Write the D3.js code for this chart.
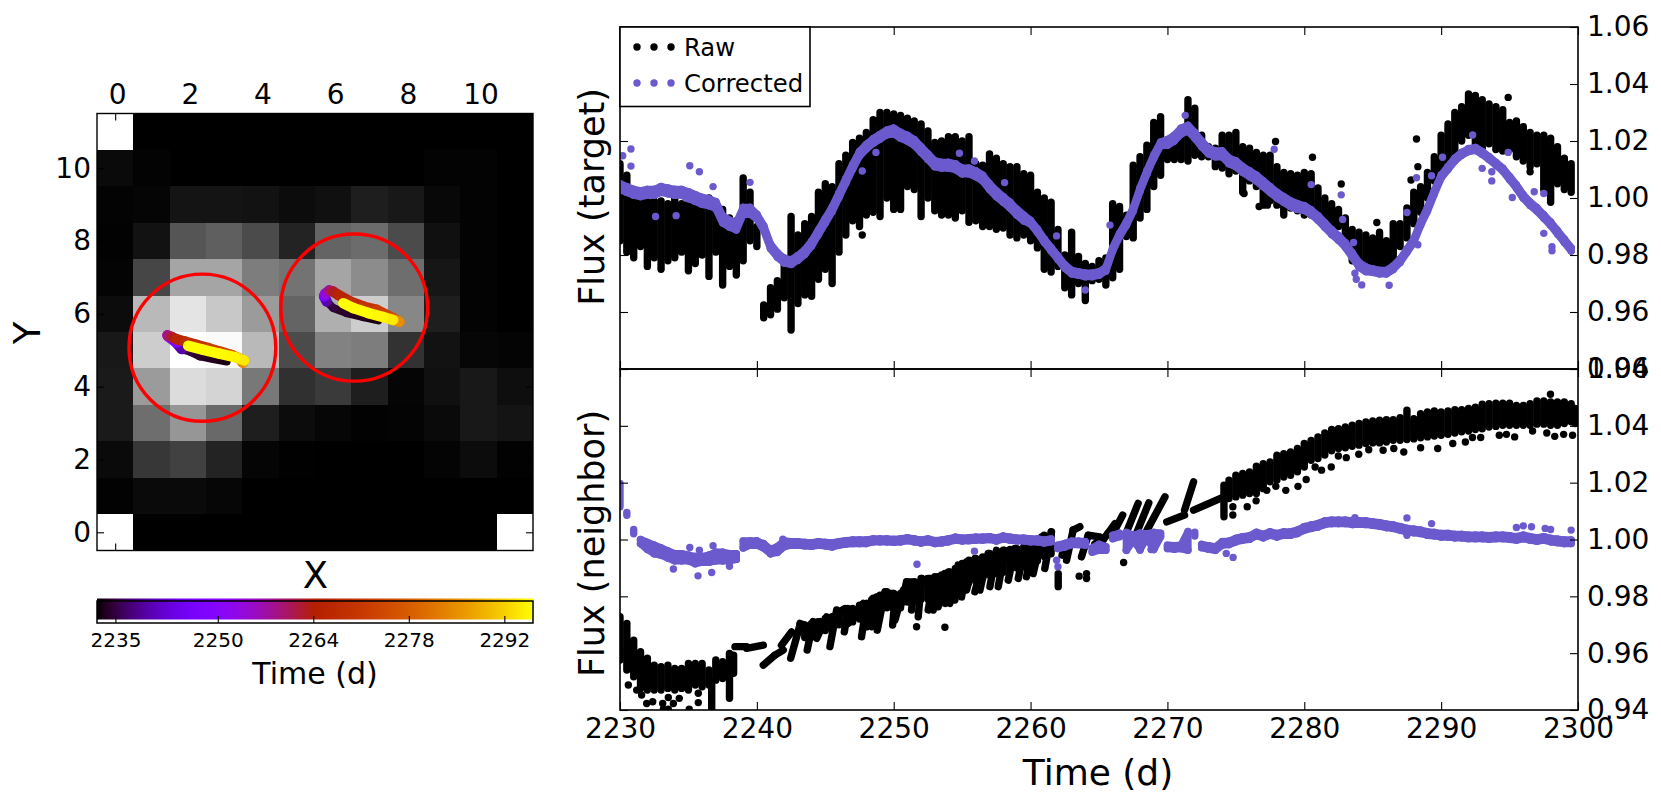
<!DOCTYPE html>
<html><head><meta charset="utf-8">
<script src="https://cdn.jsdelivr.net/npm/d3@7"></script>
<style>html,body{margin:0;padding:0;background:#fff}svg{display:block}text{font-family:"DejaVu Sans";fill:#000}</style>
</head><body><svg id="c" width="1661" height="806"></svg>
<script>
// ---------- pixel image (row 0 = Y 11, top) ; null = masked pixel
const heatRows = [
[null,0,0,0,0,0,0,0,0,0,0,0],
[10,3,0,0,0,0,0,0,0,3,3,0],
[3,5,20,20,18,12,16,30,24,8,3,0],
[2,18,85,95,75,35,100,108,75,16,3,0],
[4,70,165,165,125,115,165,140,110,22,3,0],
[12,185,228,200,155,100,175,205,135,30,3,0],
[24,205,255,250,185,75,130,125,50,18,6,4],
[26,155,220,212,120,48,58,30,5,16,24,14],
[26,110,150,105,30,12,6,2,4,10,24,20],
[10,55,65,35,5,1,0,0,0,4,12,2],
[2,10,10,6,0,0,0,0,0,0,0,0],
[null,0,0,0,0,0,0,0,0,0,0,null]];
const apertureX = [2.4, 6.58], apertureY = [5.07, 6.17], apertureR = [2.02, 2.02];
const heatTicks = [0,2,4,6,8,10];
// ---------- centroid tracks
const trackTime = [2232.5,2233,2233.5,2234,2235,2240,2248,2254,2259,2263,2266,2268,2270,2272,2274,2277,2281,2285,2294.5,2295.5,2296,2296.2];
const track1X = [3.07,2.70,2.33,2.06,1.83,1.69,1.46,1.44,1.56,1.69,1.92,2.24,2.56,2.89,3.21,3.44,3.51,3.55,3.30,2.89,2.43,2.01];
const track1Y = [4.69,4.76,4.83,4.96,5.03,5.20,5.38,5.41,5.36,5.30,5.24,5.15,5.06,4.96,4.87,4.76,4.66,4.72,4.81,4.90,5.01,5.12];
const track2X = [7.24,6.83,6.37,6.00,5.82,5.75,5.78,5.89,6.00,6.14,6.46,6.83,7.20,7.47,7.65,7.75,7.82,7.65,7.38,6.97,6.55,6.28];
const track2Y = [5.82,5.91,6.02,6.16,6.34,6.48,6.55,6.64,6.61,6.52,6.34,6.20,6.11,5.97,5.88,5.82,5.78,5.83,5.91,6.02,6.16,6.29];
const cbTicks = [2235,2250,2264,2278,2292];
const cbDomain = [2232.3,2296.2];
// ---------- shared
const dayGrid = d3.range(2230,2300,0.5);
const timeTicks = [2230,2240,2250,2260,2270,2280,2290,2300];
const fluxTicks = [0.94,0.96,0.98,1.00,1.02,1.04,1.06];
// ---------- target, raw, high and low edge of the scatter per half day
const targetRawHi = [
1.012,1.008,1.001,.999,.999,.999,.999,.998,1.000,.998,
.998,.998,.998,1.000,.996,.996,.993,.992,1.007,1.002,
.990,.9625,.9685,.971,.979,.9935,.987,.991,.9935,1.002,
1.005,1.004,1.012,1.015,1.0195,1.021,1.023,1.0275,1.030,1.030,
1.0295,1.029,1.028,1.027,1.026,1.0235,1.0195,1.020,1.0215,1.0215,
1.020,1.0215,1.012,1.0115,1.0155,1.014,1.012,1.011,1.011,1.0085,
1.008,1.002,1.000,.9985,.989,.980,.988,.9795,.977,.976,
.978,.979,.998,.997,.994,1.0115,1.0145,1.0185,1.0265,1.0285,
1.020,1.021,1.023,1.0345,1.0315,1.022,1.018,1.0175,1.022,1.022,
1.023,1.018,1.0175,1.016,1.015,1.015,1.011,1.009,1.0085,1.008,
1.009,1.0085,1.0035,1.000,.998,.996,.993,.989,.988,.987,
.986,.988,.985,.991,.991,.9965,1.002,1.004,1.009,1.0145,
1.022,1.026,1.030,1.032,1.0365,1.036,1.0345,1.033,1.032,1.031,
1.0265,1.027,1.025,1.023,1.022,1.022,1.021,1.018,1.014,1.012];
const targetRawLo = [
.985,.981,.979,.983,.976,.979,.975,.978,.979,.981,
.9745,.977,.980,.9725,.981,.9695,.976,.973,.978,.985,
.983,.958,.959,.961,.965,.9537,.963,.966,.9655,.9715,
.975,.970,.981,.987,.992,.990,.994,.995,.9935,1.000,
.996,.996,1.004,1.003,.9935,1.000,.9955,.994,.994,.993,
.9955,.9915,.992,.990,.990,.989,.9895,.987,.986,.987,
.985,.9825,.975,.974,.976,.9685,.966,.970,.964,.971,
.9715,.9695,.972,.975,.9865,.986,.993,.996,1.004,1.008,
1.0135,1.0135,1.0135,1.013,1.015,1.0145,1.0145,1.011,1.0105,1.0085,
1.0095,1.002,1.006,1.004,.9975,.999,.9975,.994,.9965,.9955,
.994,.994,.9935,.9925,.990,.990,.984,.978,.976,.976,
.976,.976,.976,.978,.983,.986,.991,.995,1.000,1.006,
1.010,1.0125,1.015,1.020,1.022,1.018,1.016,1.019,1.017,1.0165,
1.017,1.0145,1.013,1.011,1.012,1.003,.9985,1.005,1.003,1.002];
const targetRawDotT = [2288.2,2294.9,2285.3,2282.7,2280.6,2277.9,2275.6,2276.7,2277.3,2287.8,2288.3,2296.5,2247.7,2248.6];
const targetRawDotV = [1.0207,1.0353,.9914,1.0049,1.0143,1.0198,1.0016,.997,.9975,1.0063,1.011,1.0092,.987,1.0271];
// ---------- target, corrected
const targetCorr = [
1.004,1.003,1.002,1.0015,1.002,1.002,1.003,1.0025,1.002,1.002,
1.001,1.000,.999,.9985,.9975,.9925,.991,.990,.9955,.9955,
.9935,.9895,.983,.980,.978,.9775,.979,.981,.984,.988,
.992,.996,1.001,1.006,1.011,1.0155,1.018,1.020,1.0215,1.023,
1.0235,1.022,1.021,1.0195,1.017,1.0145,1.012,1.0115,1.0115,1.011,
1.0095,1.0095,1.0085,1.007,1.004,1.0015,.9995,.9975,.995,.993,
.9915,.9885,.985,.982,.979,.976,.974,.9735,.973,.973,
.9735,.975,.982,.987,.991,.996,1.003,1.009,1.0145,1.019,
1.0195,1.021,1.0235,1.0245,1.022,1.019,1.0165,1.0155,1.0155,1.013,
1.012,1.010,1.0085,1.007,1.005,1.003,1.001,.9995,.998,.997,
.9965,.995,.993,.9905,.988,.986,.9835,.980,.9765,.975,
.9745,.974,.974,.9755,.978,.9815,.985,.991,.996,1.002,
1.0075,1.0105,1.0135,1.0155,1.0168,1.0172,1.0158,1.014,1.012,1.010,
1.007,1.004,1.0005,.998,.996,.9935,.991,.988,.985,.982];
const targetCorrSpread = [.0010,.0012,.0008,.0008,.0010,.0010,.0006,.0006,.0010,.0010,.0008,.0006,.0005,.0006]; // one per 5 days
const targetCorrDotT = [2235.1,2235.8,2236.8,2239.5,2230.2,2230.8,2230.8,2232.6,2234.1,2247.7,2248.7,2254.8,2255.9,2258.1,2261.9,2264,2271.3,2277.8,2280.5,2282.7,2282.8,2283.6,2283.7,2283.8,2284.2,2286.2,2288.3,2287.5,2288.2,2289.3,2290.1,2292.3,2293,2293.7,2293.7,2294.9,2295.2,2296.8,2297.5,2297.5,2298.1,2298.1,2265.8];
const targetCorrDotV = [1.0113,1.0092,1.004,1.0055,1.0148,1.0172,1.0112,.9935,.9938,1.0095,1.016,1.0157,1.013,1.0054,.9867,.9677,1.029,1.0171,1.0047,1.0011,.9925,.9844,.9736,.9715,.9695,.9694,.9836,.9949,1.0071,1.0078,1.0143,1.0221,1.0104,1.0092,1.006,1.016,1.0002,1.0022,1.0016,.9876,.9829,.9815,.9905];
// ---------- neighbor, raw drift streaks (start time, start flux, end time, end flux)
const neighborT0 = [2230,2230.5,2231,2231.5,2232,2232.5,2233,2233.5,2234,2234.5,2235,2235.5,2236,2236.5,2236.7,2237,2237.5,2238,2238.3,
2238.4,2239.25,2240.47,2241.32,2241.8,2242.47,2243.15,2243.68,2244.12,2244.37,2245.34,2245.83,2246.39,2246.68,2247.65,2248.02,2248.38,2248.8,2249.36,2249.92,2250.09,2250.57,2250.94,2251.3,2251.79,2252.04,2252.52,2252.89,2253.25,2253.74,2254.1,2254.47,2254.96,2255.32,2255.93,2256.3,2257.03,2257.64,2258.37,2259.1,2259.7,2260.19,2261.04,2262.02,2262.63,2263.11,2263.72,2264.21,
2265.64,2266.16,2267.07,2267.73,2268.51,2269.95,2271.25,2271.91,2274.13,
2274.5,2275,2275.5,2276,2276.5,2277,2277.5,2278,2278.5,2279,2279.5,2280,2280.5,2281,2281.5,2282,2282.5,2283,2283.5,2284,2284.5,2285,2285.5,2286,2286.5,2287,2287.5,2288,2288.5,2289,2289.5,2290,2290.5,2291,2291.5,2292,2292.5,2293,2293.5,2294,2294.5,2295,2295.5,2296,2296.5,2297,2297.5,2298,2298.5,2299,2299.5,2299.8,
2262.3,2264.7,2265.1];
const neighborV0 = [.9576,.9541,.9517,.9476,.947,.947,.947,.9476,.947,.9476,.947,.9488,.9482,.9488,.9388,.9505,.9511,.9441,.9529,
.9623,.9617,.9558,.9593,.9628,.9582,.9705,.9611,.9705,.9652,.9623,.974,.9675,.9705,.9658,.9693,.9693,.9681,.981,.9699,.9716,.9775,.9851,.9752,.9728,.9857,.9752,.9752,.9763,.9775,.9775,.9787,.9798,.9822,.9816,.9822,.9834,.9834,.9857,.9863,.9869,.988,.9898,.9834,.9927,1.0033,.9939,1.0015,
1.0021,1.0033,1.0033,1.0021,1.0033,1.0062,1.0103,1.0103,1.008,
1.0144,1.015,1.0156,1.0162,1.0162,1.0179,1.0203,1.0209,1.022,1.0226,1.0238,1.0255,1.0279,1.0285,1.0297,1.0312,1.032,1.0323,1.0328,1.0332,1.0338,1.034,1.034,1.0343,1.0349,1.0349,1.0352,1.0354,1.0358,1.0361,1.0364,1.0367,1.037,1.0375,1.0379,1.0382,1.0387,1.039,1.0396,1.0398,1.0402,1.0402,1.0402,1.0402,1.0402,1.0406,1.0406,1.0402,1.0402,1.0408,1.0414,1.0408,
.9945,.9985,.9985];
const neighborT1 = [2230,2230.5,2231,2231.5,2232,2232.5,2233,2233.5,2234,2234.5,2235,2235.5,2236,2236.5,2236.7,2237,2237.5,2238,2238.3,
2239.25,2240.47,2241.32,2241.93,2242.54,2243.15,2243.76,2244.12,2244.61,2245.1,2245.83,2246.44,2246.68,2247.77,2248.02,2248.38,2248.75,2249.36,2249.97,2250.09,2250.7,2250.94,2251.55,2251.55,2252.04,2252.64,2252.89,2253.25,2253.74,2254.1,2254.47,2254.71,2255.32,2255.93,2256.3,2256.9,2257.51,2258.12,2258.85,2259.58,2260.19,2260.8,2261.53,2262.02,2263.11,2263.6,2264.21,2265.06,
2266.16,2266.73,2267.86,2268.64,2269.82,2271.25,2271.91,2274.13,2274.13,
2274.5,2275,2275.5,2276,2276.5,2277,2277.5,2278,2278.5,2279,2279.5,2280,2280.5,2281,2281.5,2282,2282.5,2283,2283.5,2284,2284.5,2285,2285.5,2286,2286.5,2287,2287.5,2288,2288.5,2289,2289.5,2290,2290.5,2291,2291.5,2292,2292.5,2293,2293.5,2294,2294.5,2295,2295.5,2296,2296.5,2297,2297.5,2298,2298.5,2299,2299.5,2299.8,
2262.63,2265.3,2265.64];
const neighborV1 = [.9728,.9705,.9646,.9605,.9582,.9558,.9552,.9558,.9546,.9546,.9564,.9564,.9564,.9541,.9505,.9576,.957,.9599,.9593,
.9623,.9628,.9593,.9611,.9675,.9699,.9693,.9711,.9711,.9728,.9752,.9757,.9757,.9775,.9775,.9787,.9798,.9816,.981,.9793,.9822,.9851,.9851,.9845,.9863,.9863,.9851,.9869,.988,.9886,.988,.991,.9921,.9933,.988,.9951,.9962,.9962,.9968,.9974,.998,1.0009,1.0027,.988,1.0033,1.0045,1.0015,1.0009,
1.0056,1.0086,1.0127,1.0129,1.015,1.0086,1.0203,1.015,1.0191,
1.0209,1.0226,1.0232,1.0238,1.0258,1.0267,1.0273,1.0297,1.0302,1.0308,1.032,1.0338,1.0349,1.0361,1.0375,1.0387,1.039,1.0396,1.0402,1.0408,1.0414,1.0417,1.042,1.0422,1.0422,1.0429,1.0455,1.0425,1.0443,1.0449,1.0452,1.0449,1.0452,1.0457,1.0457,1.0461,1.0466,1.0476,1.0478,1.048,1.048,1.048,1.0472,1.0472,1.0478,1.0488,1.0488,1.0484,1.0484,1.0484,1.0478,1.0461,
.9985,1.0,1.0021];
// neighbor raw, dense part of the drift band between the streaks
const neighborBandT = d3.range(2243.5,2262,0.5);
const neighborBandHi = [.9699,.9705,.9711,.9722,.9728,.9746,.9754,.9757,.9769,.9775,.9793,.9804,.9816,.981,.981,.9851,.9851,.9863,.9863,.9869,.9875,.9886,.9898,.9916,.9927,.9933,.9939,.9951,.9957,.9962,.9965,.9968,.9974,.998,.9998,1.0015,1.0027];
const neighborBandLo = [.9655,.966,.967,.968,.9685,.97,.971,.971,.972,.9725,.974,.975,.976,.9755,.976,.978,.9785,.979,.979,.98,.981,.981,.982,.984,.985,.9855,.9865,.9875,.988,.9885,.9895,.99,.9905,.991,.9925,.994,.995];
const neighborRawDotT = [2230.61,2231.22,2231.58,2231.95,2232.39,2233.12,2233.53,2233.9,2234.33,2235.72,2235.72,2235.06,2233.17,2233.53,2251.67,2253.74,2263.55,2264.09,2264.09,2266.8,2274.78,2274.78,2275.83,2276.48,2277.26,2277.92,2278.65,2279.54,2280.14,2280.79,2281.26,2281.97,2282.49,2283.07,2283.98,2284.71,2285.76,2286.54,2287.27,2288.5,2289.75,2290.85,2291.77,2292.29,2292.89,2294.25,2294.77,2295.37,2296.68,2297.72,2298.3,2298.95,2299.6,2297.99];
const neighborRawDotV = [.9488,.947,.9453,.9423,.9429,.9423,.9444,.9423,.9441,.9459,.9426,.9403,.9403,.9403,.9693,.9691,.9871,.988,.9863,.9919,1.0086,1.0115,1.0115,1.0136,1.0173,1.0187,1.0173,1.0187,1.0211,1.0255,1.0244,1.0255,1.0294,1.0288,1.03,1.0316,1.0314,1.032,1.0308,1.0323,1.032,1.0338,1.0343,1.0359,1.0359,1.0367,1.037,1.0361,1.0382,1.0375,1.0363,1.037,1.0367,1.0511];
// ---------- neighbor, corrected
const neighborCorrHi = [
1.0197,1.0095,1.0035,1.000,.999,.998,.997,.996,.995,.995,
.9945,.994,.994,.9945,.9955,.9955,.995,.995,.9995,.9995,
.9995,.9985,.9965,.9975,.9995,.9992,.9992,.999,.9988,.9992,
.999,.9988,.9992,.9996,.9998,.9998,.9998,1.0002,1.0002,1.0002,
1.0,1.0002,1.0006,1.0002,.9998,1.0002,.9996,.9998,1.0002,1.0008,
1.0005,1.0006,1.0008,1.0008,1.001,1.0005,1.0012,1.0008,1.0005,1.0005,
1.0002,1.0002,.9998,1.0002,.998,.9986,.9994,.9994,.9992,.997,
.9983,.9975,1.0015,1.0022,1.0025,1.0015,1.0022,1.002,1.0025,1.0022,
.998,.9978,.998,1.0028,1.0026,.9983,.9978,.9974,.9992,.9994,
1.0004,1.001,1.0013,1.0025,1.0018,1.0027,1.0021,1.0027,1.0027,1.0033,
1.0045,1.0051,1.0056,1.0065,1.0068,1.0068,1.0068,1.0065,1.0066,1.0065,
1.0062,1.0059,1.0054,1.0051,1.0045,1.0039,1.0036,1.0033,1.0027,1.0025,
1.0021,1.0021,1.0018,1.0018,1.0015,1.0015,1.0015,1.0013,1.0015,1.0015,
1.0013,1.001,1.0015,1.001,1.0006,1.001,1.0004,1.0001,.9998,.9998];
const neighborCorrLo = [
1.0115,1.0085,1.002,.9985,.9965,.995,.9945,.9935,.9925,.9925,
.9925,.9915,.992,.992,.9925,.9925,.9925,.993,.997,.998,
.998,.997,.995,.9955,.9975,.998,.998,.9978,.9976,.998,
.9978,.9974,.998,.9984,.9986,.9986,.9986,.9992,.9992,.9992,
.999,.9992,.9996,.9992,.9988,.9992,.9986,.9988,.9992,.9998,
.9995,.9996,.9998,.9998,1.0,.9995,1.0002,.9998,.9995,.9995,
.9992,.9992,.9988,.9992,.9968,.9974,.9982,.9982,.998,.9955,
.9962,.9962,1.0003,1.001,.9962,.9997,.9965,1.0006,.9965,1.001,
.9968,.9966,.9968,.9962,1.0012,.9971,.9966,.9962,.998,.9982,
.9992,.9998,1.0001,1.0013,1.0006,1.0015,1.0009,1.0015,1.0015,1.0021,
1.0033,1.0039,1.0044,1.0053,1.0056,1.0056,1.0056,1.0053,1.0054,1.0053,
1.005,1.0047,1.0042,1.0039,1.0033,1.0027,1.0024,1.0021,1.0015,1.0013,
1.0009,1.0009,1.0006,1.0006,1.0003,1.0003,1.0003,1.0001,1.0003,1.0003,
1.0001,.9998,1.0003,.9998,.9994,.9998,.9992,.9989,.9986,.9986];
const neighborCorrDotT = [2235.1,2235.8,2236.8,2233.9,2235.7,2236.7,2238,2251.7,2255.9,2261.9,2262,2241.9,2274.8,2274.3,2287.5,2289.3,2287.5,2295.5,2296,2296.6,2297.6,2298,2299.5,2283.7,2267,2268,2268.8];
const neighborCorrDotV = [.9972,.9962,.9978,.9896,.9872,.9884,.9906,.9913,.9959,.9927,.9904,1.0001,.9937,.9951,1.0076,1.0056,1.0015,1.0042,1.0048,1.0045,1.0039,1.0035,1.0033,1.0077,.9962,.9962,.9965];
const legendNames = ["Raw","Corrected"];
const legendColors = ["#000","#6a5acd"];

// ---------- drawing
const svg = d3.select("#c");
const DOT = 3.7, BLACK="#000", SLATE="#6a5acd";
const gnuplot = x => `rgb(${Math.round(255*Math.sqrt(x))},${Math.round(255*x*x*x)},${Math.round(255*Math.max(0,Math.sin(2*Math.PI*x)))})`;
function frame(g,x0,y0,x1,y1,w=1.4){g.append("rect").attr("x",x0).attr("y",y0).attr("width",x1-x0).attr("height",y1-y0).attr("fill","none").attr("stroke","#000").attr("stroke-width",w);}
function styleAxis(a,size,dx=0,dy=0){a.select(".domain").remove();a.selectAll("line").attr("stroke","#000").attr("stroke-width",1.1);a.selectAll("text").attr("font-size",size).attr("font-family","DejaVu Sans").attr("fill","#000").attr("transform",`translate(${dx},${dy})`);}

// heat map
const H = {l:97,r:533,t:113.5,b:550.5};
const hx = d3.scaleLinear().domain([-0.5,11.5]).range([H.l,H.r]);
const hy = d3.scaleLinear().domain([-0.5,11.5]).range([H.b,H.t]);
const gh = svg.append("g");
const grey = d3.scaleLinear().domain([0,255]).range(["#000","#fff"]);
heatRows.forEach((row,ri)=>row.forEach((v,ci)=>{
  const yv = 11-ri;
  gh.append("rect").attr("x",hx(ci-.5)).attr("y",hy(yv+.5)).attr("width",hx(ci+.5)-hx(ci-.5)).attr("height",hy(yv-.5)-hy(yv+.5))
    .attr("fill",v===null?"#fff":grey(v)).attr("shape-rendering","crispEdges");
}));
const tc = d3.scaleLinear().domain(cbDomain).range([H.l,H.r]);
[[track1X,track1Y],[track2X,track2Y]].forEach(([X,Y])=>{
  trackTime.forEach((t,i)=>{ if(i===0) return;
    gh.append("line").attr("x1",hx(X[i-1])).attr("y1",hy(Y[i-1])).attr("x2",hx(X[i])).attr("y2",hy(Y[i]))
      .attr("stroke",gnuplot(Math.max(0,Math.min(1,(t-cbDomain[0])/(cbDomain[1]-cbDomain[0])))))
      .attr("stroke-width",i<5?8:10.5).attr("stroke-linecap","round");
  });
});
apertureX.forEach((x,i)=>gh.append("ellipse").attr("cx",hx(x)).attr("cy",hy(apertureY[i])).attr("rx",hx(x+apertureR[i])-hx(x)).attr("ry",hy(apertureY[i])-hy(apertureY[i]+apertureR[i])).attr("fill","none").attr("stroke","#f00").attr("stroke-width",3.4));
[["Top",d3.axisTop,H.t,hx,true],["Bottom",d3.axisBottom,H.b,hx,false]].forEach(([n,fn,y,s,lab])=>{
  const a=gh.append("g").attr("transform",`translate(0,${y})`).call(fn(s).tickValues(heatTicks).tickSize(-7).tickPadding(8).tickFormat(lab?d3.format("d"):""));
  styleAxis(a,28,2,-2);
});
[[d3.axisLeft,H.l,true],[d3.axisRight,H.r,false]].forEach(([fn,x,lab])=>{
  const a=gh.append("g").attr("transform",`translate(${x},0)`).call(fn(hy).tickValues(heatTicks).tickSize(-7).tickPadding(6).tickFormat(lab?d3.format("d"):""));
  styleAxis(a,28,0,0);
});
frame(gh,H.l,H.t,H.r,H.b);
gh.append("text").attr("x",315.5).attr("y",588).attr("text-anchor","middle").attr("font-size",37).text("X");
gh.append("text").attr("transform","translate(40,333) rotate(-90)").attr("text-anchor","middle").attr("font-size",37).text("Y");

// colour bar
const C={t:601,b:623};
const grad=svg.append("defs").append("linearGradient").attr("id","g");
d3.range(0,1.0001,0.02).forEach(o=>grad.append("stop").attr("offset",o).attr("stop-color",gnuplot(o)));
svg.append("rect").attr("x",H.l).attr("y",598.5).attr("width",H.r-H.l).attr("height",21).attr("fill","url(#g)");
const ca=svg.append("g").attr("transform",`translate(0,${C.b})`).call(d3.axisBottom(tc).tickValues(cbTicks).tickSize(-7).tickPadding(10).tickFormat(d3.format("d")));
styleAxis(ca,20);
frame(svg,H.l,C.t,H.r,C.b,1.5);
svg.append("text").attr("x",315).attr("y",684).attr("text-anchor","middle").attr("font-size",30).text("Time (d)");

// light-curve panels
const P={l:620,r:1578};
const x=d3.scaleLinear().domain([2230,2300]).range([P.l,P.r]);
function panel(top,bot,idx,ylabel,yc,showX){
  const y=d3.scaleLinear().domain([0.94,1.06]).range([bot,top]);
  const g=svg.append("g");
  const cid="clip"+idx;
  g.append("clipPath").attr("id",cid).append("rect").attr("x",P.l).attr("y",top).attr("width",P.r-P.l).attr("height",bot-top);
  const m=g.append("g").attr("clip-path",`url(#${cid})`);
  const seg=(t0,v0,t1,v1,col)=>t0.forEach((t,i)=>m.append("line").attr("x1",x(t)).attr("y1",y(v0[i])).attr("x2",x(t1[i])).attr("y2",y(v1[i])).attr("stroke",col).attr("stroke-width",DOT*2).attr("stroke-linecap","round"));
  const dots=(T,V,col)=>T.forEach((t,i)=>m.append("circle").attr("cx",x(t)).attr("cy",y(V[i])).attr("r",DOT).attr("fill",col));
  // corrected flux is one narrow ribbon: successive half-day samples are joined when they lie close together
  const ribbon=(lo,hi,gap)=>{
    seg(dayGrid,lo,dayGrid,hi,SLATE);
    dayGrid.forEach((t,i)=>{ if(i===dayGrid.length-1) return;
      if(Math.abs((lo[i]+hi[i])-(lo[i+1]+hi[i+1]))/2>gap) return;
      seg([t],[lo[i]],[dayGrid[i+1]],[lo[i+1]],SLATE);
      seg([t],[hi[i]],[dayGrid[i+1]],[hi[i+1]],SLATE);
    });
  };
  if(idx===0){
    seg(dayGrid,targetRawLo,dayGrid,targetRawHi,BLACK);
    dots(targetRawDotT,targetRawDotV,BLACK);
    const lo=targetCorr.map((c,i)=>c-targetCorrSpread[Math.floor(i/10)]), hi=targetCorr.map((c,i)=>c+targetCorrSpread[Math.floor(i/10)]);
    ribbon(lo,hi,0.02);
    dots(targetCorrDotT,targetCorrDotV,SLATE);
  } else {
    seg(neighborBandT,neighborBandLo,neighborBandT,neighborBandHi,BLACK);
    seg(neighborT0,neighborV0,neighborT1,neighborV1,BLACK);
    dots(neighborRawDotT,neighborRawDotV,BLACK);
    ribbon(neighborCorrLo,neighborCorrHi,0.0022);
    dots(neighborCorrDotT,neighborCorrDotV,SLATE);
  }
  const ax1=g.append("g").attr("transform",`translate(${P.r},0)`).call(d3.axisRight(y).tickValues(fluxTicks).tickSize(-8).tickPadding(9).tickFormat(d3.format(".2f")));
  styleAxis(ax1,28);
  const ax2=g.append("g").attr("transform",`translate(${P.l},0)`).call(d3.axisLeft(y).tickValues(fluxTicks).tickSize(-8).tickFormat(""));
  styleAxis(ax2,28);
  const ax3=g.append("g").attr("transform",`translate(0,${top})`).call(d3.axisTop(x).tickValues(timeTicks).tickSize(-8).tickFormat(""));
  styleAxis(ax3,28);
  const ax4=g.append("g").attr("transform",`translate(0,${bot})`).call(d3.axisBottom(x).tickValues(timeTicks).tickSize(-8).tickPadding(8).tickFormat(showX?d3.format("d"):""));
  styleAxis(ax4,28);
  frame(g,P.l,top,P.r,bot,1.6);
  g.append("text").attr("transform",`translate(604,${yc}) rotate(-90)`).attr("text-anchor","middle").attr("font-size",35).text(ylabel);
}
panel(27,369,0,"Flux (target)",197,false);
panel(369,710,1,"Flux (neighbor)",543.5,true);
svg.append("text").attr("x",1098).attr("y",785).attr("text-anchor","middle").attr("font-size",36).text("Time (d)");

// legend
const L=svg.append("g");
L.append("rect").attr("x",P.l).attr("y",27).attr("width",190).attr("height",79.5).attr("fill","#fff").attr("stroke","#000").attr("stroke-width",1.6);
legendNames.forEach((n,i)=>{
  const yy=47+36*i;
  [637,654,671].forEach(px=>L.append("circle").attr("cx",px).attr("cy",yy).attr("r",DOT).attr("fill",legendColors[i]));
  L.append("text").attr("x",684).attr("y",yy+8.5).attr("font-size",24.3).text(n);
});
</script></body></html>
